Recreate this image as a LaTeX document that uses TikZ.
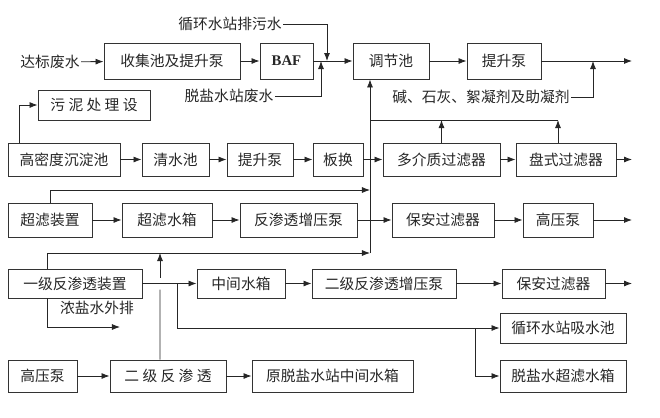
\documentclass[tikz,border=0pt]{standalone}
\usepackage{fontspec}
\setmainfont{Noto Sans CJK SC}
\newfontfamily\baffont{Liberation Serif}
\usepackage{tikz}
\usetikzlibrary{arrows.meta,positioning,calc}

\begin{document}
\begin{tikzpicture}[
  x=0.025cm, y=-0.025cm,
  every node/.style={font=\fontsize{10.5}{12}\selectfont, text=black!85},
  box/.style={draw=black!80, line width=0.6pt, align=center, inner sep=1pt},
  lbl/.style={inner sep=1pt},
  arr/.style={-{Latex[length=2mm,width=1.5mm]}, line width=0.6pt, draw=black!85},
  ln/.style={line width=0.6pt, draw=black!85}
]
  \useasboundingbox (0,0) rectangle (660,417);

  % row 1
  \node[lbl] (inflow) at (50,62) {达标废水};
  \node[box, minimum width=34mm, minimum height=9mm] (collect) at (172,61) {收集池及提升泵};
  \node[box, minimum width=13.25mm, minimum height=9mm] (baf) at (286.5,61) {\baffont\bfseries BAF};
  \node[box, minimum width=19mm, minimum height=9mm] (tiaojie) at (391,61) {调节池};
  \node[box, minimum width=18.5mm, minimum height=9mm] (pump1) at (504,61) {提升泵};
  \node[lbl] (cwdis) at (230,24) {循环水站排污水};
  \node[lbl] (dswaste) at (229,96) {脱盐水站废水};
  \node[lbl] (chem) at (481,97) {碱、石灰、絮凝剂及助凝剂};
  \node[box, minimum width=28mm, minimum height=7.5mm] (sludge) at (94,105) {污 泥 处 理 设};

  % row 2
  \node[box, minimum width=28mm, minimum height=8.25mm] (hdc) at (64,159.5) {高密度沉淀池};
  \node[box, minimum width=16.75mm, minimum height=8.25mm] (clear) at (175.5,159.5) {清水池};
  \node[box, minimum width=16.5mm, minimum height=8.25mm] (pump2) at (260,159.5) {提升泵};
  \node[box, minimum width=12.5mm, minimum height=8.25mm] (plate) at (338,159.5) {板换};
  \node[box, minimum width=29.25mm, minimum height=8.25mm] (mmf) at (441.5,159.5) {多介质过滤器};
  \node[box, minimum width=25mm, minimum height=8.25mm] (disc) at (566,159.5) {盘式过滤器};

  % row 3
  \node[box, minimum width=21mm, minimum height=8.5mm] (uf) at (50,220) {超滤装置};
  \node[box, minimum width=22.5mm, minimum height=8.5mm] (uftank) at (167,220) {超滤水箱};
  \node[box, minimum width=29.25mm, minimum height=8.5mm] (booster) at (298.5,220) {反渗透增压泵};
  \node[box, minimum width=25.5mm, minimum height=8.5mm] (sec1) at (443,220) {保安过滤器};
  \node[box, minimum width=17.5mm, minimum height=8.5mm] (hpp1) at (558,220) {高压泵};

  % row 4
  \node[box, minimum width=33.5mm, minimum height=7.25mm] (ro1) at (75,283.5) {一级反渗透装置};
  \node[box, minimum width=22mm, minimum height=7.25mm] (midtank) at (241,283.5) {中间水箱};
  \node[box, minimum width=36mm, minimum height=7.25mm] (booster2) at (384,283.5) {二级反渗透增压泵};
  \node[box, minimum width=25.75mm, minimum height=7.25mm] (sec2) at (553.5,283.5) {保安过滤器};
  \node[lbl] (brinetxt) at (97,308) {浓盐水外排};

  % rows 5 and 6
  \node[box, minimum width=31.5mm, minimum height=7.5mm] (cwpool) at (563,328) {循环水站吸水池};
  \node[box, minimum width=31.5mm, minimum height=8mm] (dstank) at (563,376) {脱盐水超滤水箱};
  \node[box, minimum width=17.25mm, minimum height=8mm] (hpp2) at (42.5,376) {高压泵};
  \node[box, minimum width=29mm, minimum height=8mm] (ro2) at (168,376) {二 级 反 渗 透};
  \node[box, minimum width=40.25mm, minimum height=8mm] (orig) at (332.5,376) {原脱盐水站中间水箱};

  % joints and free ends
  \coordinate (j1) at (327,61);
  \coordinate (j2) at (321,61);
  \coordinate (j3) at (593,61);
  \coordinate (out1) at (632,61);
  \coordinate (ret1) at (370,120);
  \coordinate (ret2) at (558,120);
  \coordinate (rmid) at (370,190);
  \coordinate (rb) at (370,253);
  \coordinate (out2) at (632,159.5);
  \coordinate (out3) at (632,220);
  \coordinate (out4) at (632,283.5);
  \coordinate (hop) at (160,283.5);
  \coordinate (br) at (177,283.5);
  \coordinate (bsplit) at (475,328);
  \coordinate (brine) at (120,327);

  % row 1 flow
  \draw[arr] (inflow) -- (collect);
  \draw[arr] (collect) -- (baf);
  \draw[arr] (baf) -- (tiaojie);
  \draw[arr] (cwdis.east) -| (j1);
  \draw[arr] (dswaste.east) -| (j2);
  \draw[arr] (tiaojie) -- (pump1);
  \draw[arr] (pump1) -- (out1);
  \draw[arr] (chem.east) -| (j3);

  % return to 调节池
  \draw[arr] (rb) -- (rb |- tiaojie.south);
  \draw[ln] (ret1) -- (ret2);
  \draw[arr] (mmf.north) -- (mmf.north |- ret2);
  \draw[arr] (disc.north -| ret2) -- (ret2);

  % row 2 flow
  \draw[arr] ([xshift=3mm]hdc.north west) |- (sludge);
  \draw[arr] (hdc) -- (clear);
  \draw[arr] (clear) -- (pump2);
  \draw[arr] (pump2) -- (plate);
  \draw[arr] (plate) -- (mmf);
  \draw[arr] (mmf) -- (disc);
  \draw[arr] (disc) -- (out2);

  % row 3 flow
  \draw[arr] (uf.north) |- (rmid);
  \draw[arr] (uf) -- (uftank);
  \draw[arr] (uftank) -- (booster);
  \draw[arr] (booster) -- (sec1);
  \draw[arr] (sec1) -- (hpp1);
  \draw[arr] (hpp1) -- (out3);

  % row 4 flow
  \draw[arr] ([xshift=-7mm]ro1.north) |- (rb);
  \draw[ln] ([xshift=-2mm]ro2.north) -- ([yshift=-1.5mm]hop);
  \draw[arr] ([yshift=1.5mm]hop) -- (hop |- rb);
  \draw[arr] (ro1) -- (midtank);
  \draw[arr] (midtank) -- (booster2);
  \draw[arr] (booster2) -- (sec2);
  \draw[arr] (sec2) -- (out4);
  \draw[arr] ([xshift=-7mm]ro1.south) |- (brine);
  \draw[arr] (br) |- (cwpool);
  \draw[arr] (bsplit) |- (dstank);

  % row 6 flow
  \draw[arr] (hpp2) -- (ro2);
  \draw[arr] (ro2) -- (orig);
\end{tikzpicture}
\end{document}
